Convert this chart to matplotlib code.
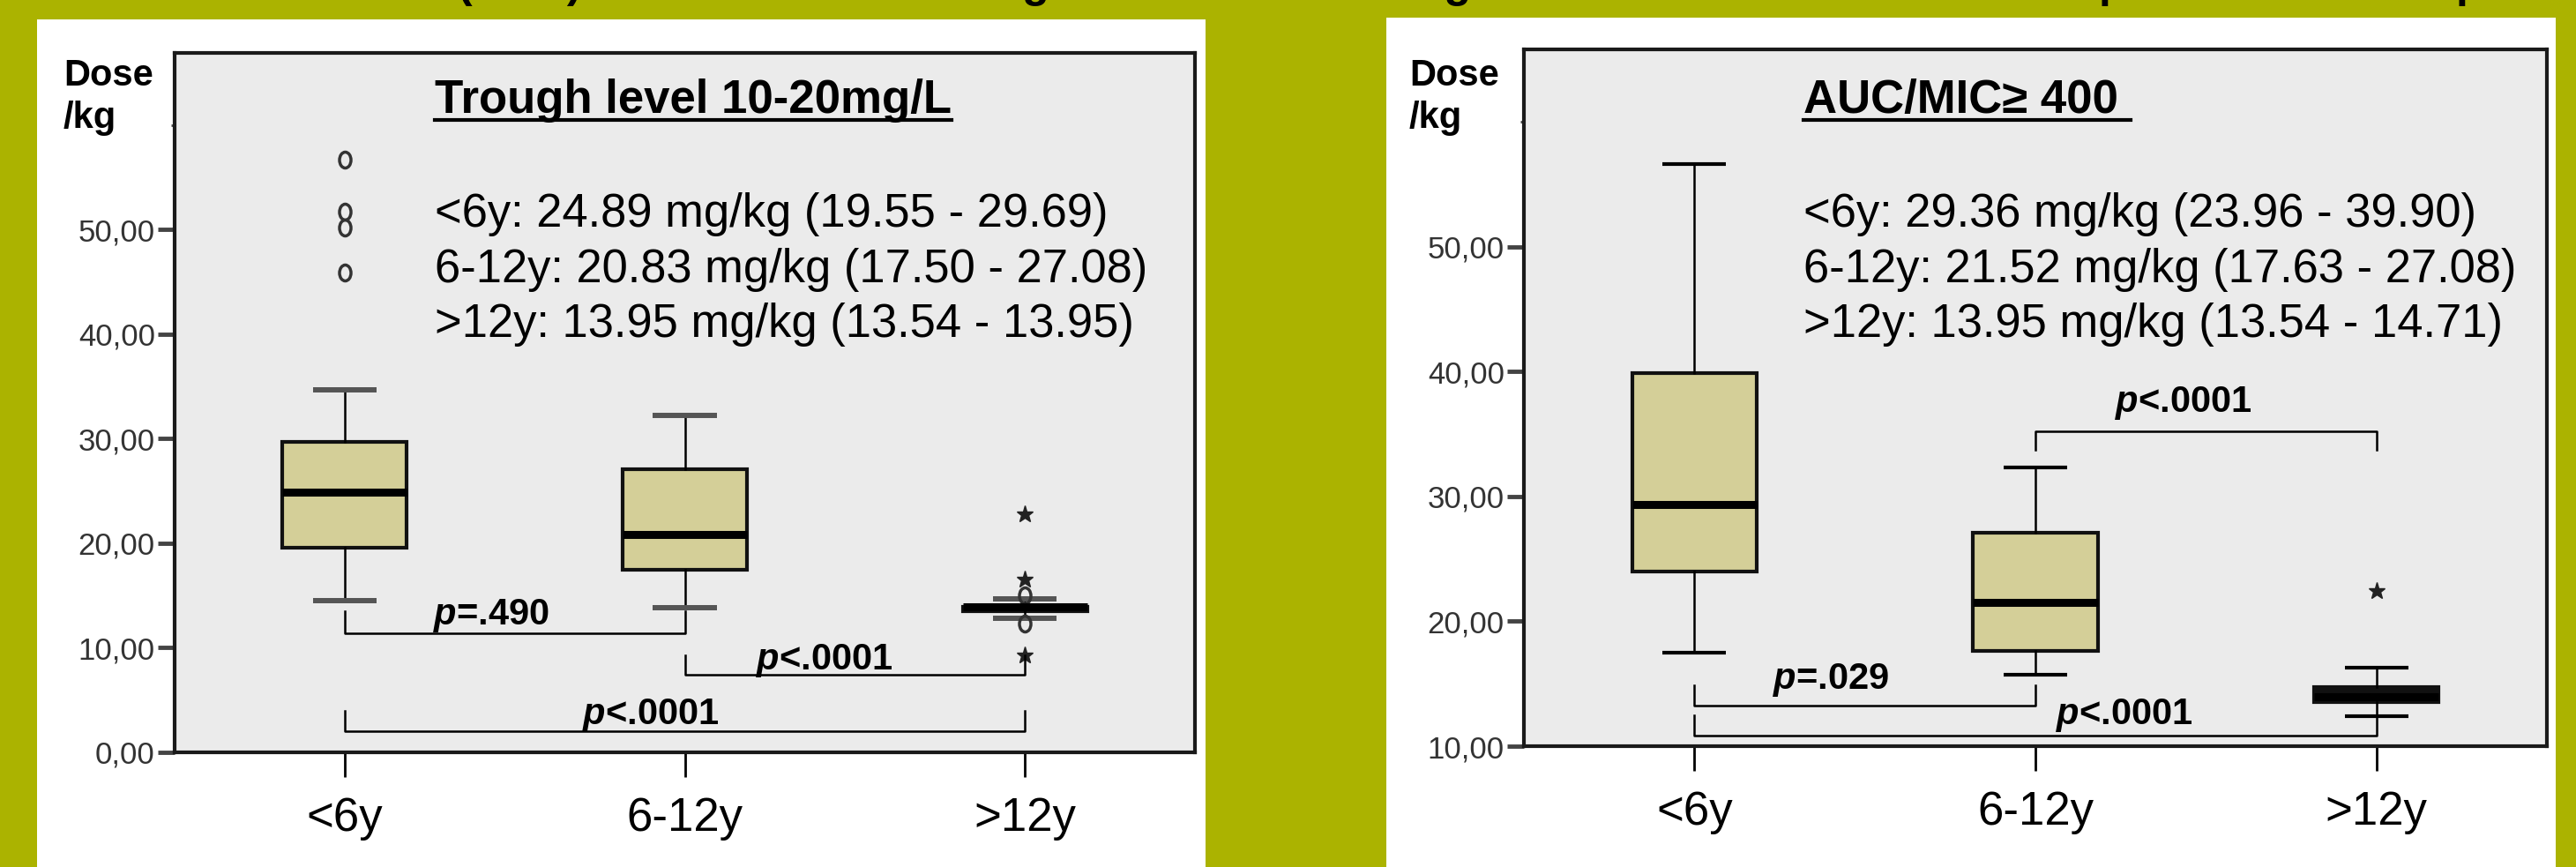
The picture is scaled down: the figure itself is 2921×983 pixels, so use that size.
import matplotlib
matplotlib.use('Agg')
import matplotlib.pyplot as plt
from matplotlib import font_manager
from matplotlib.patches import Rectangle
from matplotlib.lines import Line2D
from matplotlib.path import Path
from matplotlib.transforms import Affine2D


def has_font(name):
    try:
        font_manager.findfont(font_manager.FontProperties(family=name), fallback_to_default=False)
        return True
    except Exception:
        return False


SANS = 'Liberation Sans' if has_font('Liberation Sans') else 'DejaVu Sans'
NARROW = 'Liberation Sans Narrow' if has_font('Liberation Sans Narrow') else SANS
plt.rcParams['font.family'] = [SANS, 'DejaVu Sans']
plt.rcParams['mathtext.fontset'] = 'custom'
plt.rcParams['mathtext.it'] = SANS + ':italic:bold'
plt.rcParams['mathtext.rm'] = SANS + ':bold'

W, H = 2921, 983
OLIVE = '#abb300'
BOXCOL = '#d4cf98'

groups = ['<6y', '6-12y', '>12y']

# trough level target
trough_med = [24.89, 20.83, 13.95]
trough_q1 = [19.55, 17.50, 13.54]
trough_q3 = [29.69, 27.08, 13.95]
trough_lo = [14.5, 13.8, 12.8]
trough_hi = [34.7, 32.2, 14.7]
trough_out_grp = [1, 1, 1, 1, 3, 3]
trough_out_val = [45.9, 50.2, 51.7, 56.7, 15.0, 12.3]
trough_ext_grp = [3, 3, 3]
trough_ext_val = [22.8, 16.5, 9.3]
trough_stats = ['<6y: 24.89 mg/kg (19.55 - 29.69)',
                '6-12y: 20.83 mg/kg (17.50 - 27.08)',
                '>12y: 13.95 mg/kg (13.54 - 13.95)']
# (group a, group b, bar level, tip level, label, label x, label y)
trough_pvals = [(1, 2, 11.4, 13.5, '=.490', 1.43, 12.2),
                (2, 3, 7.4, 9.3, '<.0001', 2.41, 7.9),
                (1, 3, 2.0, 4.0, '<.0001', 1.90, 2.7)]

# AUC/MIC target
auc_med = [29.36, 21.52, 13.95]
auc_q1 = [23.96, 17.63, 13.54]
auc_q3 = [39.90, 27.08, 14.71]
auc_lo = [17.5, 15.7, 12.4]
auc_hi = [56.6, 32.3, 16.3]
auc_out_grp = []
auc_out_val = []
auc_ext_grp = [3]
auc_ext_val = [22.4]
auc_stats = ['<6y: 29.36 mg/kg (23.96 - 39.90)',
             '6-12y: 21.52 mg/kg (17.63 - 27.08)',
             '>12y: 13.95 mg/kg (13.54 - 14.71)']
auc_pvals = [(2, 3, 35.2, 33.7, '<.0001', 2.435, 36.8),
             (1, 2, 13.25, 14.9, '=.029', 1.40, 14.6),
             (1, 3, 10.85, 12.5, '<.0001', 2.26, 11.8)]

fig = plt.figure(figsize=(W / 100, H / 100), dpi=100, facecolor=OLIVE)

# white slide panels (below the axes)
fig.patches.append(Rectangle((42 / W, 0), (1367 - 42) / W, (H - 22) / H,
                             transform=fig.transFigure, facecolor='white', edgecolor='none', zorder=-5))
fig.patches.append(Rectangle((1572 / W, 0), (2898 - 1572) / W, (H - 20) / H,
                             transform=fig.transFigure, facecolor='white', edgecolor='none', zorder=-5))

# cut-off heading at the very top of the slide
for txt, x, ha in [('(AUC)', 589, 'center'), ('dosing', 1190, 'right'), ('among', 1668, 'right'),
                   ('per', 2380, 'left'), ('pairs', 2785, 'left')]:
    fig.text(x / W, 1 + 3 / H, txt, fontsize=36, fontweight='bold', ha=ha, va='baseline')

ell = Path.unit_circle().transformed(Affine2D().scale(0.72, 1.0))


def panel(px, ylim, yticks, med, q1, q3, lo, hi, out_g, out_v, ext_g, ext_v,
          title, stats, pvals, title_xy, stats_x, stats_y, capcol, capw):
    l, r, t, b = px
    ax = fig.add_axes([l / W, (H - b) / H, (r - l) / W, (b - t) / H])
    ax.set_facecolor('#ebebeb')
    bstats = [dict(med=med[i], q1=q1[i], q3=q3[i], whislo=lo[i], whishi=hi[i], fliers=[])
              for i in range(len(groups))]
    bp = ax.bxp(bstats, positions=[1, 2, 3], widths=0.365, capwidths=0.187, patch_artist=True,
                showfliers=False,
                boxprops=dict(facecolor=BOXCOL, edgecolor='#111111', linewidth=3),
                medianprops=dict(color='black', linewidth=6.5, solid_capstyle='butt'),
                whiskerprops=dict(color='black', linewidth=1.8),
                capprops=dict(color=capcol, linewidth=capw, solid_capstyle='butt'))
    # the >12y box is so flat that it prints as a solid black bar
    bp['boxes'][2].set_facecolor('#111111')
    ax.plot(out_g, out_v, linestyle='none', marker=ell, markersize=13, mfc='none',
            mec='#333333', mew=2.5)
    ax.plot(ext_g, ext_v, linestyle='none', marker='*', markersize=14, color='#222222')

    ax.set_xlim(0.5, 3.5)
    ax.set_ylim(*ylim)
    ax.set_xticks([1, 2, 3], groups)
    ax.set_yticks(yticks, [f'{v:.2f}'.replace('.', ',') for v in yticks])
    ax.set_yticks([60], minor=True)
    ax.tick_params(axis='x', length=20, width=2, pad=16, labelsize=38, colors='black')
    ax.tick_params(axis='y', which='major', length=14, width=3.5, pad=2, labelsize=25,
                   color='#444444', labelcolor='#333333')
    ax.tick_params(axis='y', which='minor', length=3, width=2, color='#444444')
    for lab in ax.get_yticklabels():
        lab.set_fontfamily(NARROW)
    for s in ax.spines.values():
        s.set_linewidth(3)
        s.set_color('#1a1a1a')

    for ga, gb, lev, tip, lab, tx, ty in pvals:
        ax.plot([ga, ga, gb, gb], [tip, lev, lev, tip], color='black', linewidth=1.8)
        ax.text(tx, ty, r'$\mathit{p}$' + lab, ha='center', va='baseline', fontsize=30,
                fontweight='bold')

    tt = ax.text(title_xy[0], title_xy[1], title, transform=ax.transAxes, ha='left',
                 va='baseline', fontsize=38, fontweight='bold')
    for i, s in enumerate(stats):
        ax.text(stats_x, stats_y[i], s, transform=ax.transAxes, ha='left', va='baseline',
                fontsize=37.8)
    return ax, tt


axL, ttL = panel((198, 1355, 60, 853), (0, 66.9), [0, 10, 20, 30, 40, 50],
                 trough_med, trough_q1, trough_q3, trough_lo, trough_hi,
                 trough_out_grp, trough_out_val, trough_ext_grp, trough_ext_val,
                 'Trough level 10-20mg/L', trough_stats, trough_pvals,
                 (0.255, 0.914), 0.255, [0.7516, 0.6721, 0.5939], '#555555', 4.3)
axR, ttR = panel((1728, 2888, 56, 846), (10, 65.8), [10, 20, 30, 40, 50],
                 auc_med, auc_q1, auc_q3, auc_lo, auc_hi,
                 auc_out_grp, auc_out_val, auc_ext_grp, auc_ext_val,
                 'AUC/MIC\u2265 400 ', auc_stats, auc_pvals,
                 (0.273, 0.909), 0.273, [0.7456, 0.6658, 0.5873], 'black', 3)

# axis caption
for x in (72, 1598):
    fig.text(x / W, (H - 97) / H, 'Dose', fontsize=30, fontweight='bold', va='baseline')
    fig.text(x / W, (H - 145) / H, '/kg', fontsize=30, fontweight='bold', va='baseline')

# underline the panel titles
fig.canvas.draw()
rend = fig.canvas.get_renderer()
inv = fig.transFigure.inverted()
for ax, tt in ((axL, ttL), (axR, ttR)):
    bb = tt.get_window_extent(rend)
    ybase = ax.transAxes.transform(tt.get_position())[1] - 8
    p0 = inv.transform((bb.x0, ybase))
    p1 = inv.transform((bb.x1, ybase))
    fig.add_artist(Line2D([p0[0], p1[0]], [p0[1], p1[1]], color='black', linewidth=3,
                          transform=fig.transFigure))

fig.savefig('out.png', dpi=100, facecolor=OLIVE)
